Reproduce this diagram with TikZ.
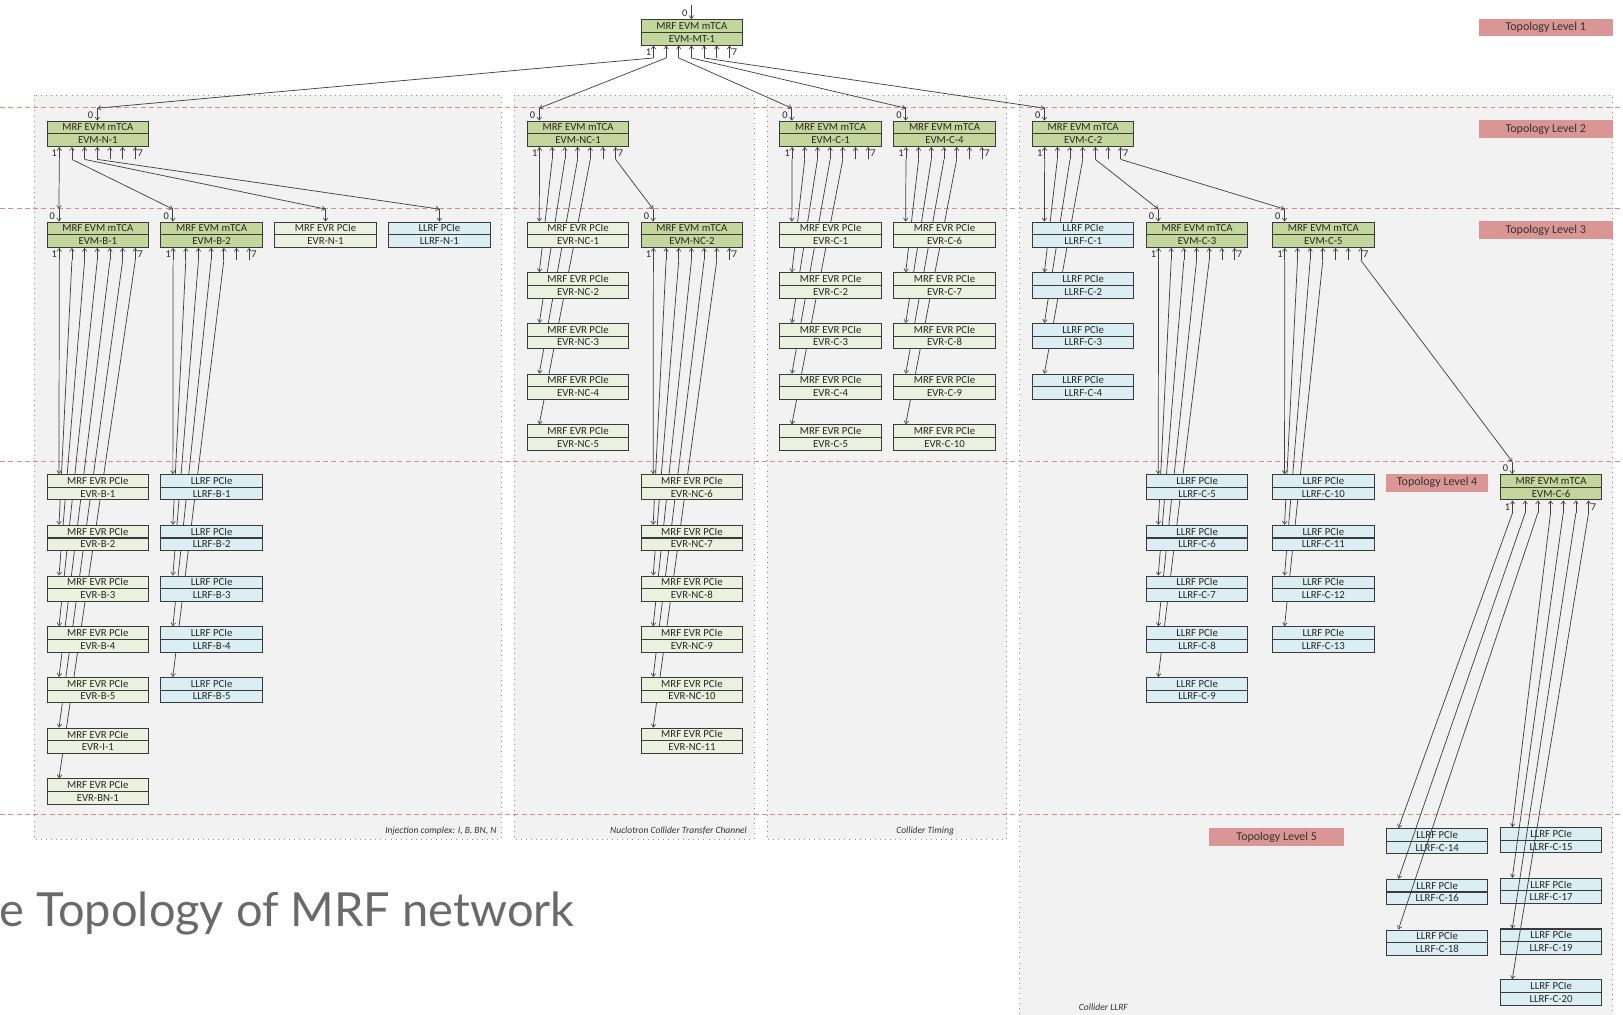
\documentclass[tikz,border=0pt]{standalone}
\usepackage{fontspec}
\setmainfont{Carlito}
\newfontfamily\titlefont{Lato}
\usetikzlibrary{arrows.meta,calc}
\pgfdeclarelayer{base}
\pgfdeclarelayer{back}
\pgfdeclarelayer{bg}
\pgfsetlayers{base,back,bg,main}
\definecolor{evmfill}{HTML}{C3D69B}
\definecolor{evrfill}{HTML}{EBF1DE}
\definecolor{llrffill}{HTML}{DBEEF4}
\definecolor{boxline}{HTML}{3A3A3A}
\definecolor{conncol}{HTML}{404040}
\definecolor{panelfill}{HTML}{F2F2F2}
\definecolor{panelborder}{HTML}{8C8C8C}
\definecolor{levelcol}{HTML}{C9908E}
\definecolor{lvlfill}{HTML}{D99694}
\definecolor{titlegray}{HTML}{6A6A6A}
\tikzset{
  box/.style={draw=boxline, line width=0.5pt, minimum width=49pt, minimum height=12.25pt,
    inner sep=0pt, align=center, font=\fontsize{5.2}{6.125}\selectfont, anchor=north west, text=black!85},
  evmbox/.style={box, fill=evmfill},
  evrbox/.style={box, fill=evrfill},
  llrfbox/.style={box, fill=llrffill},
  midline/.style={draw=boxline, line width=0.5pt},
  conn/.style={draw=conncol, line width=0.35pt, -{Straight Barb[length=1.5pt,width=2.2pt,line width=0.3pt]}},
  portlbl/.style={font=\fontsize{5}{6}\selectfont, inner sep=0pt, text=black!85},
  lvl/.style={fill=lvlfill, minimum width=65pt, minimum height=8.5pt, inner sep=0pt,
    font=\fontsize{5.8}{7}\selectfont, anchor=north west, text=black!80},
  panel/.style={fill=panelfill, draw=panelborder, dotted, line width=0.45pt},
  levelline/.style={draw=levelcol, dash pattern=on 2.4pt off 1.6pt, line width=0.5pt},
  panellbl/.style={font=\itshape\fontsize{4.6}{5.5}\selectfont, inner sep=0pt, text=black!80},
}
% EVM: name, L, T, second line, input offset, input stub length
\newcommand\evm[6]{%
  \node[evmbox] (#1) at (#2,#3) {MRF EVM mTCA\\#4};
  \draw[midline] (#1.west) -- (#1.east);
  \path (#1.north west) ++(#5,-#6) coordinate (#1-in);
  \draw[conn] (#1-in) -- (#1-in |- #1.north);
  \node[portlbl] at ($(#1.north west)+(#5-6.5,-5.5)$) {0};
  \foreach \k in {1,...,7} {
    \path (#1.south west) ++(12.25*\k,12) coordinate (#1-p\k);
    \draw[conn] (#1-p\k) -- (#1-p\k |- #1.south);
  }
  \node[portlbl] at ($(#1.south west)+(7.5,6)$) {1};
  \node[portlbl] at ($(#1.south west)+(90.5,6)$) {7};
}
\newcommand\evr[4]{%
  \node[evrbox] (#1) at (#2,#3) {MRF EVR PCIe\\#4};
  \draw[midline] (#1.west) -- (#1.east);
  \path (#1.north west) ++(12,0) coordinate (#1-t);
}
\newcommand\llrf[4]{%
  \node[llrfbox] (#1) at (#2,#3) {LLRF PCIe\\#4};
  \draw[midline] (#1.west) -- (#1.east);
  \path (#1.north west) ++(12,0) coordinate (#1-t);
}
\begin{document}
\begin{tikzpicture}[x=0.5pt,y=-0.5pt]
\useasboundingbox (0,0) rectangle (1568,980);
\begin{pgfonlayer}{base}
  \fill[white] (0,0) rectangle (1568,980);
\end{pgfonlayer}

\begin{pgfonlayer}{back}
  \path[panel] (33,92) rectangle (484,811);
  \path[panel] (497,92) rectangle (728.5,811);
  \path[panel] (741,92) rectangle (972.5,811);
  \path[panel] (985,92) rectangle (1558,990);
  \foreach \yy in {103.5,201.5,445.5,786.5}
    \draw[levelline] (0,\yy) -- (1568,\yy);
\end{pgfonlayer}

% panel captions
\node[panellbl, anchor=east] (capI) at (480,803) {Injection complex: I, B, BN, N};
\node[panellbl, anchor=east] (capN) at (722,803) {Nuclotron Collider Transfer Channel};
\node[panellbl, anchor=east] (capT) at (922,803) {Collider Timing};
\node[panellbl] (capL) at (1066,973) {Collider LLRF};

% topology levels
\node[lvl] (lv1) at (1428,17.5) {Topology Level 1};
\node[lvl] (lv2) at (1428,116) {Topology Level 2};
\node[lvl] (lv3) at (1428,213.5) {Topology Level 3};
\node[lvl, minimum width=49pt] (lv4) at (1339,457.5) {Topology Level 4};
\node[lvl] (lv5) at (1168,800) {Topology Level 5};

% title
\node[font=\titlefont\fontsize{22.7}{27}\selectfont, text=titlegray, anchor=base west, inner sep=0pt] (title) at (-1,895) {e Topology of MRF network};

% level 1
\evm{mt}{619}{18.5}{EVM-MT-1}{49}{14}
% level 2
\evm{n1}{45}{116.5}{EVM-N-1}{49}{12}
\evm{nc1}{509}{116.5}{EVM-NC-1}{12}{12}
\evm{c1}{753}{116.5}{EVM-C-1}{12}{12}
\evm{c4}{863}{116.5}{EVM-C-4}{12}{12}
\evm{c2}{997}{116.5}{EVM-C-2}{12}{12}
% level 3
\evm{b1}{45}{214}{EVM-B-1}{12}{12}
\evm{b2}{155}{214}{EVM-B-2}{12}{12}
\evr{evrN1}{265}{214}{EVR-N-1}
\llrf{llrfN1}{375}{214}{LLRF-N-1}
\path (evrN1.north) ++(0,-12) coordinate (evrN1-in);
\draw[conn] (evrN1-in) -- (evrN1.north);
\path (llrfN1.north) ++(0,-12) coordinate (llrfN1-in);
\draw[conn] (llrfN1-in) -- (llrfN1.north);
\foreach \i in {1,...,5} {
  \pgfmathsetmacro\yy{214+49*(\i-1)}
  \evr{evrNC\i}{509}{\yy}{EVR-NC-\i}
  \evr{evrC\i}{753}{\yy}{EVR-C-\i}
}
\foreach \i in {6,...,10} {
  \pgfmathsetmacro\yy{214+49*(\i-6)}
  \evr{evrC\i}{863}{\yy}{EVR-C-\i}
}
\foreach \i in {1,...,4} {
  \pgfmathsetmacro\yy{214+49*(\i-1)}
  \llrf{llrfC\i}{997}{\yy}{LLRF-C-\i}
}
\evm{nc2}{619}{214}{EVM-NC-2}{12}{12}
\evm{c3}{1107}{214}{EVM-C-3}{12}{12}
\evm{c5}{1229}{214}{EVM-C-5}{12}{12}
% level 4
\foreach \i in {1,...,5} {
  \pgfmathsetmacro\yy{458+49*(\i-1)}
  \evr{evrB\i}{45}{\yy}{EVR-B-\i}
  \llrf{llrfB\i}{155}{\yy}{LLRF-B-\i}
}
\evr{evrI1}{45}{703}{EVR-I-1}
\evr{evrBN1}{45}{752}{EVR-BN-1}
\foreach \i in {6,...,11} {
  \pgfmathsetmacro\yy{458+49*(\i-6)}
  \evr{evrNC\i}{619}{\yy}{EVR-NC-\i}
}
\foreach \i in {5,...,9} {
  \pgfmathsetmacro\yy{458+49*(\i-5)}
  \llrf{llrfC\i}{1107}{\yy}{LLRF-C-\i}
}
\foreach \i in {10,...,13} {
  \pgfmathsetmacro\yy{458+49*(\i-10)}
  \llrf{llrfC\i}{1229}{\yy}{LLRF-C-\i}
}
\evm{c6}{1449}{458}{EVM-C-6}{12}{12}
% level 5
\llrf{llrfC14}{1339}{800}{LLRF-C-14}
\llrf{llrfC16}{1339}{849}{LLRF-C-16}
\llrf{llrfC18}{1339}{898}{LLRF-C-18}
\llrf{llrfC15}{1449}{799}{LLRF-C-15}
\llrf{llrfC17}{1449}{848}{LLRF-C-17}
\llrf{llrfC19}{1449}{897}{LLRF-C-19}
\llrf{llrfC20}{1449}{946}{LLRF-C-20}

% connectors behind boxes
\begin{pgfonlayer}{bg}
  \draw[conn] (mt-p1) -- (n1-in);
  \draw[conn] (mt-p2) -- (nc1-in);
  \draw[conn] (mt-p3) -- (c1-in);
  \draw[conn] (mt-p4) -- (c4-in);
  \draw[conn] (mt-p5) -- (c2-in);
  \draw[conn] (n1-p1) -- (b1-in);
  \draw[conn] (n1-p2) -- (b2-in);
  \draw[conn] (n1-p3) -- (evrN1-in);
  \draw[conn] (n1-p4) -- (llrfN1-in);
  \foreach \k/\t in {1/evrB1,2/evrB2,3/evrB3,4/evrB4,5/evrB5,6/evrI1,7/evrBN1}
    \draw[conn] (b1-p\k) -- (\t-t);
  \foreach \k in {1,...,5} {
    \draw[conn] (b2-p\k) -- (llrfB\k-t);
    \draw[conn] (nc1-p\k) -- (evrNC\k-t);
    \draw[conn] (c1-p\k) -- (evrC\k-t);
  }
  \draw[conn] (nc1-p7) -- (nc2-in);
  \foreach \k/\t in {1/evrNC6,2/evrNC7,3/evrNC8,4/evrNC9,5/evrNC10,6/evrNC11}
    \draw[conn] (nc2-p\k) -- (\t-t);
  \foreach \k/\t in {1/evrC6,2/evrC7,3/evrC8,4/evrC9,5/evrC10}
    \draw[conn] (c4-p\k) -- (\t-t);
  \foreach \k in {1,...,4}
    \draw[conn] (c2-p\k) -- (llrfC\k-t);
  \draw[conn] (c2-p5) -- (c3-in);
  \draw[conn] (c2-p7) -- (c5-in);
  \foreach \k/\t in {1/llrfC5,2/llrfC6,3/llrfC7,4/llrfC8,5/llrfC9}
    \draw[conn] (c3-p\k) -- (\t-t);
  \foreach \k/\t in {1/llrfC10,2/llrfC11,3/llrfC12,4/llrfC13}
    \draw[conn] (c5-p\k) -- (\t-t);
  \draw[conn] (c5-p7) -- (c6-in);
\end{pgfonlayer}

% EVM-C-6 connectors drawn over the boxes
\foreach \k/\t in {1/llrfC14,2/llrfC16,3/llrfC18,4/llrfC15,5/llrfC17,6/llrfC19,7/llrfC20}
  \draw[conn] (c6-p\k) -- (\t-t);
\end{tikzpicture}
\end{document}
